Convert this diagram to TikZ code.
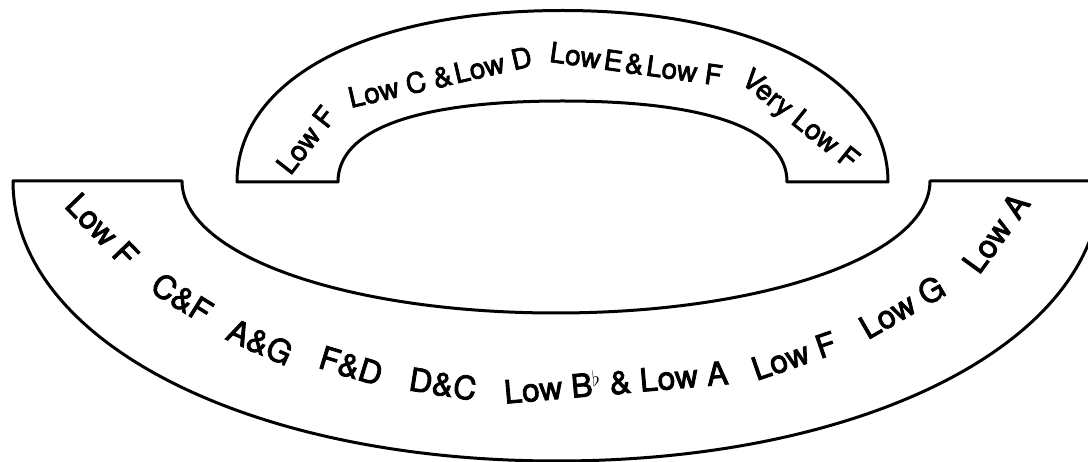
\documentclass[tikz,border=0pt]{standalone}
\usepackage{fontspec}
\setmainfont{TeX Gyre Heros}[FakeBold=2.6]

\begin{document}
\begin{tikzpicture}[x=1pt, y=-1pt,
        band/.style={draw, line width=3pt, line join=round},
        upper/.style={font=\fontsize{28}{30}\selectfont, inner sep=0pt},
        lower/.style={font=\fontsize{32}{36}\selectfont, inner sep=0pt}
      ]
        \useasboundingbox (0,0) rectangle (1088,462);

        % Upper band
        \draw[band] (237,182) -- (338,182)
          .. controls (338,129.35) and (416.6,101) .. (562.5,101)
          .. controls (708.4,101) and (787,129.35) .. (787,182)
          -- (888,182)
          .. controls (888,79.1) and (757.8,10.5) .. (562.5,10.5)
          .. controls (367.2,10.5) and (237,79.1) .. cycle;

        % Lower band
        \draw[band] (13,181) -- (182,181)
          .. controls (182,254.9) and (346.6,313) .. (556,313)
          .. controls (765.4,313) and (930,254.9) .. (930,181)
          -- (1101,181)
          .. controls (1101,340.6) and (867.1,461) .. (557,461)
          .. controls (246.9,461) and (13,340.6) .. cycle;

        % Upper labels
        \node[upper, rotate=52] (uLowF) at (306,140) {Low F};
        \node[upper, rotate=13] (uLowCD) at (440,77) {Low C \&\hspace{0.1em}Low D};
        \node[upper, rotate=-8] (uLowEF) at (636,64) {Low\hspace{0.12em}E\hspace{0.1em}\&\hspace{0.1em}Low F};
        \node[upper, rotate=-39] (uVeryLowF) at (799,121) {Very Low F};

        % Lower labels
        \node[lower, rotate=-46] (lLowF) at (102,230) {Low F};
        \node[lower, rotate=-32] (lCF) at (182,298) {C\&F};
        \node[lower, rotate=-24] (lAG) at (260,342) {A\&G};
        \node[lower, rotate=-17] (lFD) at (351,366) {F\&D};
        \node[lower, rotate=-9] (lDC) at (443,384) {D\&C};
        \node[lower, rotate=5] (lBA) at (616,382) {Low B$^{\flat}$ \& Low A};
        \node[lower, rotate=19] (lLowFr) at (794,356) {Low F};
        \node[lower, rotate=30] (lLowG) at (902,307) {Low G};
        \node[lower, rotate=54] (lLowA) at (996,233) {Low A};
      \end{tikzpicture}
\end{document}
